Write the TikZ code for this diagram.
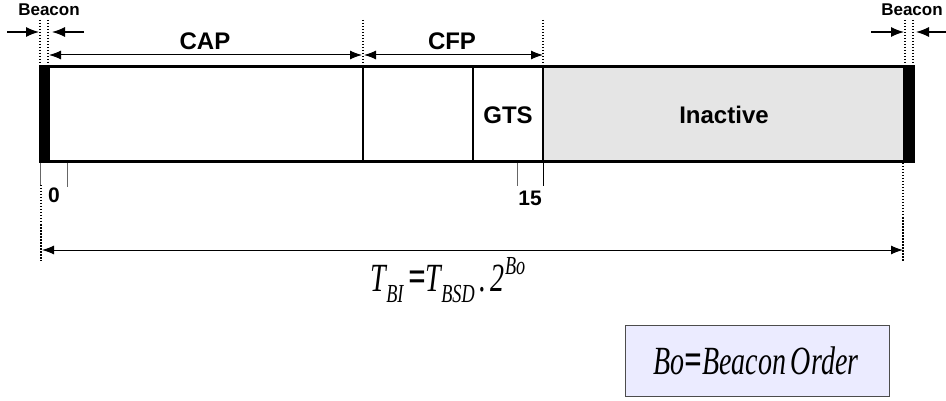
\documentclass[tikz,border=0pt]{standalone}
\usepackage{fontspec}
\setmainfont{Liberation Sans}
\newfontfamily\formfont{Liberation Serif}
\usetikzlibrary{arrows.meta}
\begin{document}
\begin{tikzpicture}[x=1pt,y=-1pt,
  lbl/.style={font=\bfseries\fontsize{24}{24}\selectfont, inner sep=0pt},
  blbl/.style={font=\bfseries\fontsize{17}{17}\selectfont, inner sep=0pt},
  nlbl/.style={font=\bfseries\fontsize{21}{21}\selectfont, inner sep=0pt},
  dimline/.style={{Latex[length=12pt,width=9pt]}-{Latex[length=12pt,width=9pt]}, line width=1pt},
  beaconarrow/.style={-{Latex[length=13pt,width=10pt]}, line width=1.2pt},
  dotline/.style={line width=1.5pt, dash pattern=on 1.5pt off 1.5pt},
  tick/.style={line width=1pt, black!60},
  frm/.style={font=\formfont\itshape\fontsize{40}{40}\selectfont, inner sep=0pt}
]
\useasboundingbox (0,0) rectangle (946,401);

% coordinates
\coordinate (d1t) at (40,20);  \coordinate (d1b) at (40,67);
\coordinate (d2t) at (48,20);  \coordinate (d2b) at (48,67);
\coordinate (d3t) at (363,20); \coordinate (d3b) at (363,67);
\coordinate (d4t) at (543,20); \coordinate (d4b) at (543,67);
\coordinate (d5t) at (905,20); \coordinate (d5b) at (905,67);
\coordinate (d6t) at (913,20); \coordinate (d6b) at (913,67);
\coordinate (l1t) at (41,185); \coordinate (l1b) at (41,261);
\coordinate (r1t) at (903,163); \coordinate (r1b) at (903,261);

% inactive fill
\fill[black!10] (543,67) rectangle (903,162);
% frame
\draw[line width=3pt] (40,67) rectangle (913,162);
\fill (39,65.5) rectangle (50,163.5);
\fill (903,65.5) rectangle (913,163.5);
\draw[line width=1.5pt] (363,67) -- (363,162);
\draw[line width=1.5pt] (473,67) -- (473,162);
\draw[line width=2.5pt] (543,67) -- (543,162);

% dotted guides
\draw[dotline] (d1t) -- (d1b);
\draw[dotline] (d2t) -- (d2b);
\draw[dotline] (d3t) -- (d3b);
\draw[dotline] (d4t) -- (d4b);
\draw[dotline] (d5t) -- (d5b);
\draw[dotline] (d6t) -- (d6b);
\draw[dotline] (l1t) -- (l1b);
\draw[dotline] (r1t) -- (r1b);

% ticks
\coordinate (t0a) at (40,163); \coordinate (t0b) at (40,185);
\coordinate (t1a) at (67,163); \coordinate (t1b) at (67,187);
\coordinate (t2a) at (517,163); \coordinate (t2b) at (517,186);
\coordinate (t3a) at (543,163); \coordinate (t3b) at (543,186);
\draw[tick] (t0a) -- (t0b);
\draw[tick] (t1a) -- (t1b);
\draw[tick] (t2a) -- (t2b);
\draw[black, line width=1pt] (t3a) -- (t3b);

% beacon arrows
\coordinate (ba1) at (7,32);   \coordinate (ba2) at (39,32);
\coordinate (ba3) at (84,32);  \coordinate (ba4) at (52,32);
\coordinate (bb1) at (871,32); \coordinate (bb2) at (904,32);
\coordinate (bb3) at (946,32); \coordinate (bb4) at (916,32);
\draw[beaconarrow] (ba1) -- (ba2);
\draw[beaconarrow] (ba3) -- (ba4);
\draw[beaconarrow] (bb1) -- (bb2);
\draw[beaconarrow] (bb3) -- (bb4);

% dimension lines
\coordinate (cap1) at (49,55);  \coordinate (cap2) at (362,55);
\coordinate (cfp1) at (364,55); \coordinate (cfp2) at (543,55);
\coordinate (bi1) at (42,250);  \coordinate (bi2) at (903,250);
\draw[dimline] (cap1) -- (cap2);
\draw[dimline] (cfp1) -- (cfp2);
\draw[dimline] (bi1) -- (bi2);

% labels
\node[blbl] (beaconL) at (49,10) {Beacon};
\node[blbl] (beaconR) at (912,10) {Beacon};
\node[lbl] (cap) at (205,41) {CAP};
\node[lbl] (cfp) at (452,41) {CFP};
\node[lbl] (gts) at (508,115) {GTS};
\node[lbl] (inactive) at (724,115) {Inactive};
\node[nlbl] (zero) at (54,195) {0};
\node[nlbl] (fifteen) at (530,198) {15};

% formula
\node[frm, anchor=base] (formula) at (448,291) {\scalebox{0.7}[1]{T\raisebox{-11pt}{\fontsize{26}{26}\selectfont BI}\,{\fontsize{44}{44}\selectfont\textbf{=}}T\raisebox{-11pt}{\fontsize{26}{26}\selectfont BSD}\,.\,2\raisebox{17pt}{\fontsize{26}{26}\selectfont Bo}}};

% legend box
\node[draw=black!70, fill=blue!8, line width=1pt, minimum width=264pt, minimum height=71pt, inner sep=0pt] (legend) at (757,361) {};
\node[frm] (legendtext) at (756,361) {\scalebox{0.7}[1]{Bo{\fontsize{44}{44}\selectfont\textbf{=}}Beacon\,Order}};
\end{tikzpicture}
\end{document}
